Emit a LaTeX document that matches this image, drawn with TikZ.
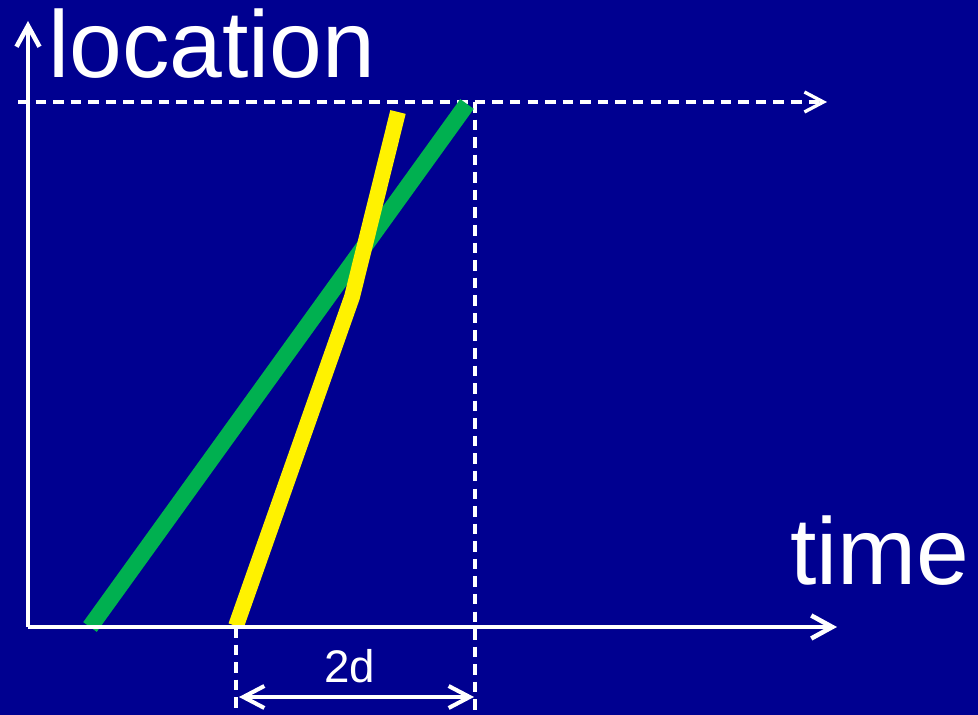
\documentclass[tikz,border=0pt]{standalone}
\usepackage{fontspec}
\setmainfont{Liberation Sans}
\usetikzlibrary{arrows.meta}

\definecolor{slideblue}{RGB}{0,0,144}
\definecolor{pptgreen}{RGB}{0,176,80}

\begin{document}
\begin{tikzpicture}[x=0.02cm, y=-0.02cm,
  axis/.style={white, line width=2.8pt, -{Straight Barb[length=4.2mm, width=4.6mm, line width=2.6pt]}},
  guide/.style={white, line width=1.9pt, dash pattern=on 6pt off 4pt},
  guidearrow/.style={guide, -{Straight Barb[length=3.8mm, width=4mm, line width=1.9pt]}},
  span/.style={white, line width=2.3pt, {Straight Barb[length=4.2mm, width=4.4mm, line width=2.3pt]}-{Straight Barb[length=4.2mm, width=4.4mm, line width=2.3pt]}},
  path/.style={line width=9pt},
  biglabel/.style={white, inner sep=0pt, anchor=base west, font=\fontsize{54}{60}\selectfont},
  smalllabel/.style={white, inner sep=0pt, anchor=base, font=\fontsize{26}{30}\selectfont}
]
\fill[slideblue] (0,0) rectangle (978,715);
\useasboundingbox (0,0) rectangle (978,715);

\coordinate (origin) at (28,627);
\coordinate (ytop) at (28,21);
\coordinate (xend) at (837,627);
\coordinate (levelL) at (18,102);
\coordinate (levelR) at (827,102);
\coordinate (endT) at (475,102);
\coordinate (endB) at (475,715);
\coordinate (startT) at (236,627);
\coordinate (startB) at (236,715);
\coordinate (spanL) at (239,697);
\coordinate (spanR) at (474,697);

\node[biglabel] (location) at (48,78) {location};
\node[biglabel] (time) at (790,585) {time};
\node[smalllabel] (twod) at (350,683) {2d};

% dashed guides
\draw[guidearrow] (levelL) -- (levelR);
\draw[guide] (endT) -- (endB);
\draw[guide] (startT) -- (startB);

% signals
\draw[path, line width=9.5pt, pptgreen] (90,627) -- (467,104);
\draw[path, yellow] (236,626) -- (352,297) -- (398,112);

% axes
\draw[axis] (origin) -- (ytop);
\draw[axis] (origin) -- (xend);
\draw[span] (spanL) -- (spanR);
\end{tikzpicture}
\end{document}
